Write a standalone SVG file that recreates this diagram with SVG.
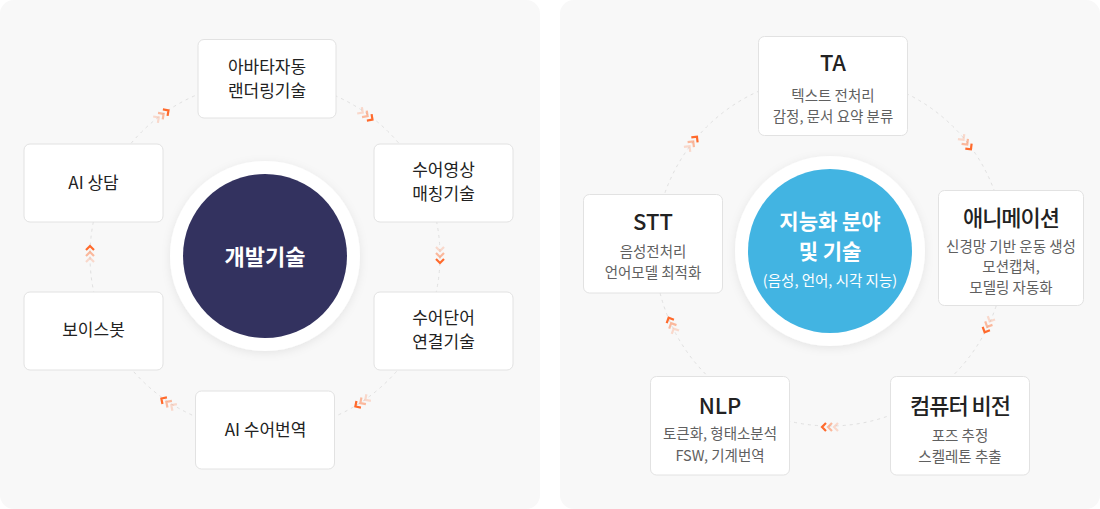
<svg xmlns="http://www.w3.org/2000/svg" xmlns:xlink="http://www.w3.org/1999/xlink" width="1100" height="509" viewBox="0 0 1100 509">
<style>
text{font-family:'Noto Sans CJK KR','Noto Sans',sans-serif;text-anchor:middle}
.panel{fill:#f8f8f8}
.box{fill:#fff;stroke:#e2e2e2;stroke-width:1}
.lt{font-size:17px;font-weight:400;fill:#222}
.rt{font-size:22px;font-weight:500;fill:#222}
.kr{letter-spacing:-1px}
.rs{font-size:14.5px;fill:#606060}
.ring{fill:#fff;filter:url(#sh)}
.ct{font-weight:700;fill:#fff}
.dash{fill:none;stroke:#e0e0e0;stroke-width:1;stroke-dasharray:3 4}
.cv{fill:none;stroke:#ff6a2c;stroke-width:2.2}
</style>
<defs>
<filter id="sh" x="-20%" y="-20%" width="140%" height="140%">
<feDropShadow dx="0" dy="2" stdDeviation="5" flood-color="#000" flood-opacity="0.08"/>
</filter>
<g id="chev3">
<path class="cv" d="M-8,-4 L-4,0 L-8,4" opacity="0.22"/>
<path class="cv" d="M-2,-4 L2,0 L-2,4" opacity="0.45"/>
<path class="cv" d="M4,-4 L8,0 L4,4"/>
</g>
</defs>
<rect class="panel" x="0" y="0" width="540" height="509" rx="14"/>
<rect class="panel" x="560" y="0" width="540" height="509" rx="14"/>
<g id="connectors">
<circle class="dash" cx="265" cy="256" r="175"/>
<circle class="dash" cx="830" cy="251" r="175"/>
<use href="#chev3" transform="translate(162,115) rotate(-36)"/>
<use href="#chev3" transform="translate(366,115) rotate(36)"/>
<use href="#chev3" transform="translate(440,255) rotate(90)"/>
<use href="#chev3" transform="translate(362,402) rotate(146)"/>
<use href="#chev3" transform="translate(168,403) rotate(214)"/>
<use href="#chev3" transform="translate(90,254) rotate(270)"/>
<use href="#chev3" transform="translate(692,143) rotate(-52)"/>
<use href="#chev3" transform="translate(966,143) rotate(52)"/>
<use href="#chev3" transform="translate(988,325) rotate(115)"/>
<use href="#chev3" transform="translate(830,427) rotate(180)"/>
<use href="#chev3" transform="translate(672,325) rotate(245)"/>
</g>
<g id="center-left">
<circle class="ring" cx="265" cy="256" r="95"/>
<circle cx="265" cy="256" r="82" fill="#33325f"/>
<text class="ct" x="265" y="265" font-size="22">개발기술</text>
</g>
<g id="n-avatar">
<rect class="box" x="198" y="39.5" width="138" height="78.5" rx="6"/>
<text class="lt" x="267" y="72.5">아바타자동</text>
<text class="lt" x="267" y="97.2">랜더링기술</text>
</g>
<g id="n-video">
<rect class="box" x="374" y="144" width="139" height="78" rx="6"/>
<text class="lt" x="443.5" y="175.5">수어영상</text>
<text class="lt" x="443.5" y="200.2">매칭기술</text>
</g>
<g id="n-word">
<rect class="box" x="374" y="292" width="139" height="78" rx="6"/>
<text class="lt" x="443.5" y="323.5">수어단어</text>
<text class="lt" x="443.5" y="348.2">연결기술</text>
</g>
<g id="n-trans">
<rect class="box" x="195.5" y="391" width="139" height="78" rx="6"/>
<text class="lt" x="265.5" y="436">AI 수어번역</text>
</g>
<g id="n-voicebot">
<rect class="box" x="24" y="292" width="139" height="78" rx="6"/>
<text class="lt" x="93.5" y="336">보이스봇</text>
</g>
<g id="n-consult">
<rect class="box" x="24" y="144" width="139" height="78" rx="6"/>
<text class="lt" x="93.5" y="189">AI 상담</text>
</g>
<g id="center-right">
<circle class="ring" cx="830" cy="251" r="95"/>
<circle cx="830" cy="251" r="82" fill="#42b4e2"/>
<text class="ct" x="830" y="229" font-size="21">지능화 분야</text>
<text class="ct" x="830" y="259" font-size="21">및 기술</text>
<text x="830" y="286" font-size="14.5" fill="#fff">(음성, 언어, 시각 지능)</text>
</g>
<g id="n-ta">
<rect class="box" x="758.5" y="36.5" width="149" height="99" rx="6"/>
<text class="rt" x="833" y="71">TA</text>
<text class="rs" x="833" y="100.5">텍스트 전처리</text>
<text class="rs" x="833" y="121.5">감정, 문서 요약 분류</text>
</g>
<g id="n-anim">
<rect class="box" x="938.5" y="190.5" width="145" height="115" rx="6"/>
<text class="rt kr" x="1011" y="226">애니메이션</text>
<text class="rs" x="1011" y="251.5">신경망 기반 운동 생성</text>
<text class="rs" x="1011" y="272">모션캡쳐,</text>
<text class="rs" x="1011" y="292.5">모델링 자동화</text>
</g>
<g id="n-cv">
<rect class="box" x="890.5" y="376.5" width="139" height="98.5" rx="6"/>
<text class="rt kr" x="960" y="413.5">컴퓨터 비전</text>
<text class="rs" x="960" y="440.5">포즈 추정</text>
<text class="rs" x="960" y="461.5">스켈레톤 추출</text>
</g>
<g id="n-nlp">
<rect class="box" x="650.5" y="376.5" width="139" height="98.5" rx="6"/>
<text class="rt" x="720" y="413.5">NLP</text>
<text class="rs" x="720" y="438.5">토큰화, 형태소분석</text>
<text class="rs" x="720" y="460.5">FSW, 기계번역</text>
</g>
<g id="n-stt">
<rect class="box" x="583.5" y="194.5" width="139" height="98.5" rx="6"/>
<text class="rt" x="653" y="229.5">STT</text>
<text class="rs" x="653" y="256.5">음성전처리</text>
<text class="rs" x="653" y="277.5">언어모델 최적화</text>
</g>
</svg>
